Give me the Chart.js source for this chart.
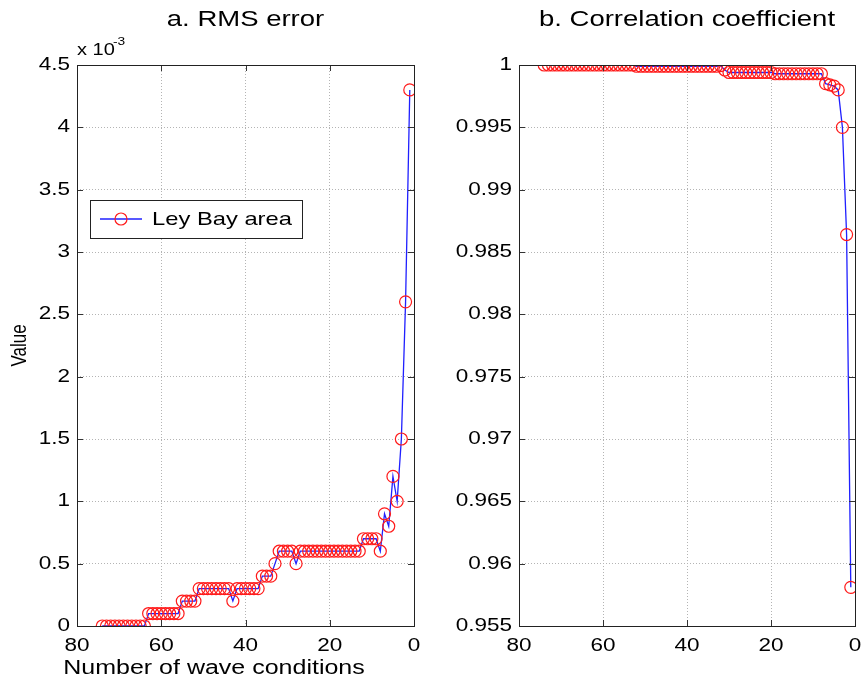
<!DOCTYPE html>
<html>
<head>
<meta charset="utf-8">
<script src="https://cdn.jsdelivr.net/npm/chart.js@4"></script>
<style>
  body { margin: 0; background: #fff; }
  #wrap { position: relative; width: 863px; height: 686px; overflow: hidden; }
  canvas { position: absolute; top: 0; }
</style>
</head>
<body>
<div id="wrap">
  <canvas id="rms" width="431" height="686" style="left:0"></canvas>
  <canvas id="corr" width="460" height="686" style="left:431px"></canvas>
</div>
<script>
// number of wave conditions (x)
var conditions = [74,73,72,71,70,69,68,67,66,65,64,63,62,61,60,59,58,57,56,55,
  54,53,52,51,50,49,48,47,46,45,44,43,42,41,40,39,38,37,36,35,34,33,32,31,30,
  29,28,27,26,25,24,23,22,21,20,19,18,17,16,15,14,13,12,11,10,9,8,7,6,5,4,3,2,1];

// a. RMS error, in units of 10^-3
var rmsError = [0,0,0,0,0,0,0,0,0,0,0,
  0.1,0.1,0.1,0.1,0.1,0.1,0.1,0.1,
  0.2,0.2,0.2,0.2,
  0.3,0.3,0.3,0.3,0.3,0.3,0.3,0.3,
  0.2,
  0.3,0.3,0.3,0.3,0.3,0.3,
  0.4,0.4,0.4,
  0.5,
  0.6,0.6,0.6,0.6,
  0.5,
  0.6,0.6,0.6,0.6,0.6,0.6,0.6,0.6,0.6,0.6,0.6,0.6,0.6,0.6,0.6,
  0.7,0.7,0.7,0.7,
  0.6,0.9,0.8,1.2,1.0,1.5,2.6,4.3];

// b. correlation coefficient
var corrCoef = [1,1,1,1,1,1,1,1,1,1,1,1,1,1,1,1,1,1,1,1,1,1,
  0.9999,0.9999,0.9999,0.9999,0.9999,0.9999,0.9999,0.9999,0.9999,0.9999,
  0.9999,0.9999,0.9999,0.9999,0.9999,0.9999,0.9999,0.9999,0.9999,0.9999,
  0.99995,0.9996,
  0.9994,0.9994,0.9994,0.9994,0.9994,0.9994,0.9994,0.9994,0.9994,0.9994,0.9994,
  0.9993,0.9993,0.9993,0.9993,0.9993,0.9993,0.9993,0.9993,0.9993,0.9993,0.9993,0.9993,
  0.9985,0.9984,0.9983,0.998,0.995,0.9864,0.9581];

var xTicks = [80, 60, 40, 20, 0];
var rmsTicks = [0, 0.5, 1, 1.5, 2, 2.5, 3, 3.5, 4, 4.5];
var corrTicks = [0.955, 0.96, 0.965, 0.97, 0.975, 0.98, 0.985, 0.99, 0.995, 1];

var FONT = 'Liberation Sans, Arial, Helvetica, sans-serif';
var SX = 1.25; // the original figure is stretched sideways

// stretch every text drawn on a context horizontally around its anchor
function stretchText(ctx, sx){
    var orig = ctx.fillText.bind(ctx);
    ctx.fillText = function(text, x, y, maxWidth){
        var m = ctx.getTransform();
        var p = m.transformPoint(new DOMPoint(x, y));
        ctx.save();
        ctx.setTransform(new DOMMatrix().translate(p.x, p.y).scale(sx, 1).translate(-p.x, -p.y).multiply(m));
        if(maxWidth === undefined) orig(text, x, y); else orig(text, x, y, maxWidth);
        ctx.restore();
    };
}

// matlab style box, inward ticks, titles and legend
var boxPlugin = {
    id: 'box',
    afterDraw: function(chart, args, opts){
        var ctx = chart.ctx, a = chart.chartArea;
        var xs = chart.scales.x, ys = chart.scales.y;
        ctx.save();
        ctx.setLineDash([]);
        ctx.strokeStyle = '#333';
        ctx.lineWidth = 1;
        xs.ticks.forEach(function(t){
            var px = Math.round(xs.getPixelForValue(t.value)) + 0.5;
            ctx.beginPath();
            ctx.moveTo(px, a.bottom); ctx.lineTo(px, a.bottom - 6);
            ctx.moveTo(px, a.top); ctx.lineTo(px, a.top + 6);
            ctx.stroke();
        });
        ys.ticks.forEach(function(t){
            var py = Math.round(ys.getPixelForValue(t.value)) + 0.5;
            ctx.beginPath();
            ctx.moveTo(a.left, py); ctx.lineTo(a.left + 6, py);
            ctx.moveTo(a.right, py); ctx.lineTo(a.right - 6, py);
            ctx.stroke();
        });
        ctx.strokeStyle = '#222';
        ctx.strokeRect(Math.round(a.left) + 0.5, Math.round(a.top) + 0.5,
            Math.round(a.right - a.left), Math.round(a.bottom - a.top));

        ctx.fillStyle = '#000';
        ctx.textAlign = 'center';
        ctx.textBaseline = 'alphabetic';
        ctx.font = '22px ' + FONT;
        ctx.fillText(opts.title, (a.left + a.right) / 2, 26);

        if(opts.xTitle){
            ctx.font = '20px ' + FONT;
            ctx.fillText(opts.xTitle, 214, 674);
        }

        if(opts.exponent){
            ctx.textAlign = 'left';
            ctx.font = '16px ' + FONT;
            ctx.fillText('x 10', a.left, 55);
            ctx.font = '11px ' + FONT;
            ctx.fillText('-3', a.left + 36, 45);
        }

        if(opts.legend){
            var ds = chart.data.datasets[0];
            var bx = 90, by = 200, bw = 212, bh = 38, cy = by + bh / 2;
            ctx.fillStyle = '#fff';
            ctx.fillRect(bx, by, bw, bh);
            ctx.strokeStyle = '#222';
            ctx.strokeRect(bx + 0.5, by + 0.5, bw, bh);
            ctx.strokeStyle = ds.borderColor;
            ctx.lineWidth = ds.borderWidth;
            ctx.beginPath();
            ctx.moveTo(bx + 10, cy); ctx.lineTo(bx + 52, cy);
            ctx.stroke();
            ctx.strokeStyle = ds.pointBorderColor;
            ctx.lineWidth = 1.2;
            ctx.beginPath();
            ctx.arc(bx + 31, cy, ds.pointRadius, 0, Math.PI * 2);
            ctx.stroke();
            ctx.fillStyle = '#000';
            ctx.textAlign = 'left';
            ctx.textBaseline = 'middle';
            ctx.font = '19px ' + FONT;
            ctx.fillText(opts.legend, bx + 62, cy + 1);
        }
        ctx.restore();
    }
};

function makeChart(id, values, yMin, yMax, yStep, yFmt, yWidth, rightPad, boxOpts){
    var ctx = document.getElementById(id).getContext('2d');
    stretchText(ctx, SX);
    var points = conditions.map(function(c, i){ return {x: c, y: values[i]}; });
    return new Chart(ctx, {
        type: 'line',
        data: {
            datasets: [{
                label: boxOpts.legend || '',
                data: points,
                borderColor: '#2020ff',
                borderWidth: 1.3,
                pointRadius: 6,
                pointBorderWidth: 1.2,
                pointBorderColor: '#ff1a1a',
                pointBackgroundColor: 'rgba(0,0,0,0)',
                tension: 0
            }]
        },
        options: {
            responsive: false,
            animation: false,
            layout: { padding: { left: 0, right: rightPad, top: 65, bottom: 0 } },
            plugins: {
                legend: { display: false },
                tooltip: { enabled: false },
                box: boxOpts
            },
            scales: {
                x: {
                    type: 'linear',
                    reverse: true,
                    min: xTicks[xTicks.length - 1],
                    max: xTicks[0],
                    afterBuildTicks: function(s){ s.ticks = xTicks.map(function(v){ return {value: v}; }); },
                    afterFit: function(s){ s.height = 60; },
                    ticks: { color: '#000', padding: 9, font: { family: FONT, size: 18 } },
                    grid: { drawTicks: false, color: '#b4b4b4', lineWidth: 1 },
                    border: { display: false, dash: [1, 2] }
                },
                y: {
                    min: yMin,
                    max: yMax,
                    afterBuildTicks: function(s){ s.ticks = yStep.map(function(v){ return {value: v}; }); },
                    afterFit: function(s){ s.width = yWidth; },
                    ticks: { color: '#000', padding: 7, font: { family: FONT, size: 18 }, callback: yFmt },
                    grid: { drawTicks: false, color: '#b4b4b4', lineWidth: 1 },
                    border: { display: false, dash: [1, 2] },
                    title: {
                        display: id === 'rms', text: 'Value', color: '#000',
                        font: { family: FONT, size: 17 }, padding: { top: 10, bottom: 0 }
                    }
                }
            }
        },
        plugins: [boxPlugin]
    });
}

makeChart('rms', rmsError, 0, 4.5, rmsTicks,
    function(v){ return String(+Number(v).toFixed(1)); },
    77, 17,
    { title: 'a. RMS error', xTitle: 'Number of wave conditions', exponent: true, legend: 'Ley Bay area' });

makeChart('corr', corrCoef, 0.955, 1, corrTicks,
    function(v){ return String(+Number(v).toFixed(3)); },
    88, 36,
    { title: 'b. Correlation coefficient', xTitle: '', exponent: false, legend: '' });
</script>
</body>
</html>
